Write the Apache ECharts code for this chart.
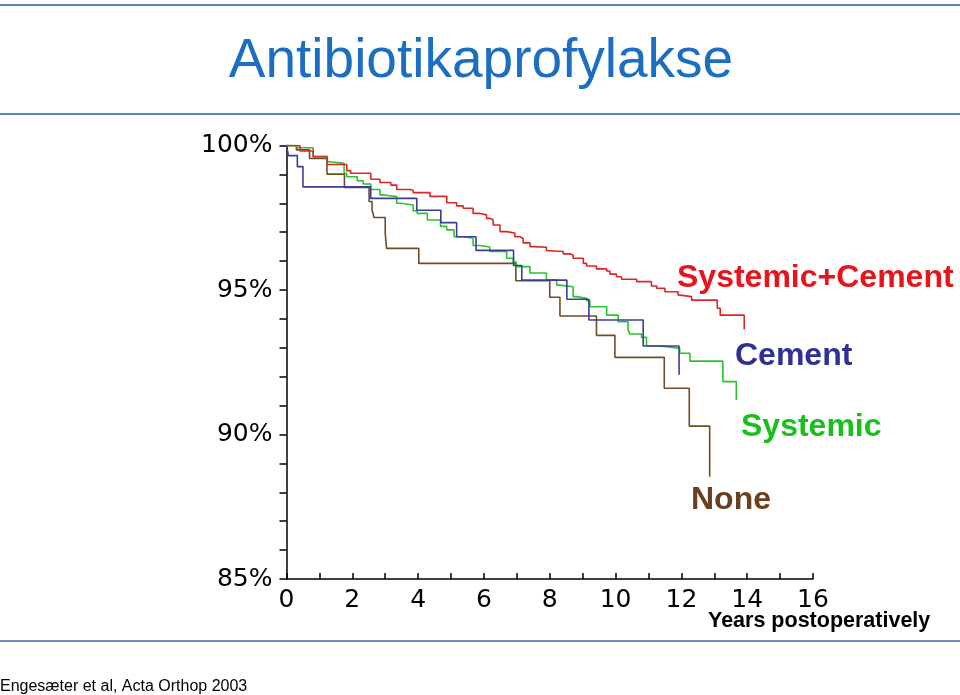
<!DOCTYPE html>
<html>
<head>
<meta charset="utf-8">
<script src="https://cdn.jsdelivr.net/npm/echarts@6/dist/echarts.min.js"></script>
<style>
html,body{margin:0;padding:0;background:#fff;}
#chart{width:960px;height:695px;}
</style>
</head>
<body>
<div id="chart"></div>
<script>
// ---- data (years postoperatively, survival %) ----
var titleText = 'Antibiotikaprofylakse';
var xTicks = [0, 2, 4, 6, 8, 10, 12, 14, 16];
var yTicks = [85, 90, 95, 100];
var seriesNames = ['Systemic+Cement', 'Cement', 'Systemic', 'None'];

var sysCemT = [0, 0.41, 0.81, 1.24, 1.83, 1.95, 2.56, 2.84, 3.17, 3.35, 3.77, 3.85, 4.36, 4.87, 5.17, 5.37, 5.67, 5.88, 6.08, 6.18, 6.28, 6.49, 6.69, 6.94, 7.09, 7.19, 7.40, 7.50, 7.90, 8.00, 8.41, 8.61, 8.71, 9.02, 9.12, 9.42, 9.73, 9.83, 10.03, 10.18, 10.64, 11.09, 11.25, 11.50, 11.90, 11.95, 12.31, 13.09, 13.18, 13.91];
var sysCemS = [100, 99.81, 99.60, 99.34, 99.13, 99.04, 98.83, 98.72, 98.63, 98.48, 98.44, 98.37, 98.24, 98.02, 97.91, 97.83, 97.65, 97.60, 97.48, 97.42, 97.25, 97.02, 96.97, 96.84, 96.78, 96.63, 96.50, 96.48, 96.36, 96.33, 96.25, 96.21, 96.10, 95.92, 95.83, 95.73, 95.66, 95.55, 95.46, 95.37, 95.29, 95.14, 95.06, 94.94, 94.83, 94.77, 94.65, 94.37, 94.13, 93.63];

var cemT = [0, 0.06, 0.33, 0.50, 2.56, 3.96, 4.69, 5.17, 5.76, 6.90, 7.15, 8.52, 9.19, 10.84, 11.93];
var cemS = [100, 99.65, 99.27, 98.57, 98.17, 97.76, 97.33, 96.84, 96.37, 95.85, 95.34, 94.68, 93.96, 93.06, 92.07];

var sysT = [0, 0.32, 0.81, 1.24, 1.32, 1.75, 1.83, 2.15, 2.33, 2.56, 2.84, 2.96, 3.35, 3.47, 3.85, 3.97, 4.28, 4.68, 4.87, 5.09, 5.37, 5.67, 5.88, 6.18, 6.69, 6.89, 6.99, 7.40, 7.90, 8.21, 8.31, 8.71, 8.82, 9.12, 9.22, 9.73, 10.08, 10.38, 10.43, 10.79, 10.94, 11.19, 11.55, 11.95, 12.26, 13.26, 13.67];
var sysS = [100, 99.92, 99.63, 99.44, 99.38, 99.04, 98.92, 98.78, 98.67, 98.48, 98.29, 98.23, 98.00, 97.94, 97.74, 97.65, 97.42, 97.20, 97.08, 96.84, 96.79, 96.54, 96.49, 96.33, 96.10, 95.97, 95.81, 95.59, 95.35, 95.17, 95.11, 94.77, 94.71, 94.63, 94.42, 94.13, 93.90, 93.62, 93.48, 93.36, 93.07, 93.04, 92.98, 92.81, 92.54, 91.83, 91.19];

var noneT = [0, 0.30, 0.70, 1.23, 1.76, 2.51, 2.60, 2.66, 3.00, 3.04, 4.02, 6.97, 8.00, 8.31, 9.42, 9.98, 11.48, 12.24, 12.86];
var noneS = [100, 99.85, 99.55, 99.01, 98.55, 98.06, 97.77, 97.51, 96.96, 96.44, 95.92, 95.32, 94.75, 94.10, 93.43, 92.67, 91.60, 90.29, 88.54];

function pairs(t, s) { return t.map(function (v, i) { return [v, s[i]]; }); }

var lineColors = ['#dd2626', '#3c3c96', '#2cc42c', '#6e4b2a'];
var labelColors = ['#e8141b', '#2e3192', '#19c019', '#6b3e1e'];
var seriesData = [pairs(sysCemT, sysCemS), pairs(cemT, cemS), pairs(sysT, sysS), pairs(noneT, noneS)];

var chart = echarts.init(document.getElementById('chart'), null, {renderer: 'canvas'});
var FONT = '"Liberation Sans", Arial, Helvetica, sans-serif';

var option = {
  backgroundColor: '#ffffff',
  animation: false,
  grid: {left: 286.5, right: 147, top: 145.5, bottom: 116, containLabel: false},
  xAxis: {
    type: 'value', min: 0, max: 16, interval: 1,
    axisLine: {show: true, onZero: false, lineStyle: {color: '#000', width: 1.5}},
    axisTick: {show: true, inside: true, length: 6, lineStyle: {color: '#000', width: 1.5}},
    splitLine: {show: false},
    axisLabel: {
      margin: 9, color: '#000', fontFamily: 'DejaVu Sans', fontSize: 25,
      formatter: function (v) { return xTicks.indexOf(v) >= 0 ? String(v) : ''; }
    }
  },
  yAxis: {
    type: 'value', min: 85, max: 100, interval: 1,
    axisLine: {show: true, onZero: false, lineStyle: {color: '#000', width: 1.5}},
    axisTick: {show: true, inside: false, length: 7, lineStyle: {color: '#000', width: 1.5}},
    splitLine: {show: false},
    axisLabel: {
      margin: 14, color: '#000', fontFamily: 'DejaVu Sans', fontSize: 25,
      formatter: function (v) { return yTicks.indexOf(v) >= 0 ? v + '%' : ''; }
    }
  },
  series: seriesNames.map(function (n, i) {
    return {
      name: n, type: 'line', step: 'end', showSymbol: false, symbol: 'none',
      data: seriesData[i], z: 10 - i,
      lineStyle: {color: lineColors[i], width: 1.6}
    };
  }),
  graphic: [
    {type: 'line', shape: {x1: 0, y1: 5, x2: 960, y2: 5}, style: {stroke: '#5b86b8', lineWidth: 2}},
    {type: 'line', shape: {x1: 0, y1: 114, x2: 960, y2: 114}, style: {stroke: '#5b86b8', lineWidth: 2}},
    {type: 'line', shape: {x1: 0, y1: 641, x2: 960, y2: 641}, style: {stroke: '#6f90b4', lineWidth: 2}},
    {type: 'text', x: 481, y: 62, style: {text: titleText, fill: '#1b6ec2', font: '55px ' + FONT, textAlign: 'center', textVerticalAlign: 'middle'}},
    {type: 'text', x: 677, y: 278, style: {text: seriesNames[0], fill: labelColors[0], font: 'bold 32px ' + FONT, textAlign: 'left', textVerticalAlign: 'middle'}},
    {type: 'text', x: 735, y: 356, style: {text: seriesNames[1], fill: labelColors[1], font: 'bold 32px ' + FONT, textAlign: 'left', textVerticalAlign: 'middle'}},
    {type: 'text', x: 741, y: 427, style: {text: seriesNames[2], fill: labelColors[2], font: 'bold 32px ' + FONT, textAlign: 'left', textVerticalAlign: 'middle'}},
    {type: 'text', x: 691, y: 500, style: {text: seriesNames[3], fill: labelColors[3], font: 'bold 32px ' + FONT, textAlign: 'left', textVerticalAlign: 'middle'}},
    {type: 'text', x: 708, y: 621, style: {text: 'Years postoperatively', fill: '#000', font: 'bold 21.5px ' + FONT, textAlign: 'left', textVerticalAlign: 'middle'}},
    {type: 'text', x: 0, y: 687, style: {text: 'Engesæter et al, Acta Orthop 2003', fill: '#000', font: '16px ' + FONT, textAlign: 'left', textVerticalAlign: 'middle'}}
  ]
};
chart.setOption(option);
</script>
</body>
</html>
